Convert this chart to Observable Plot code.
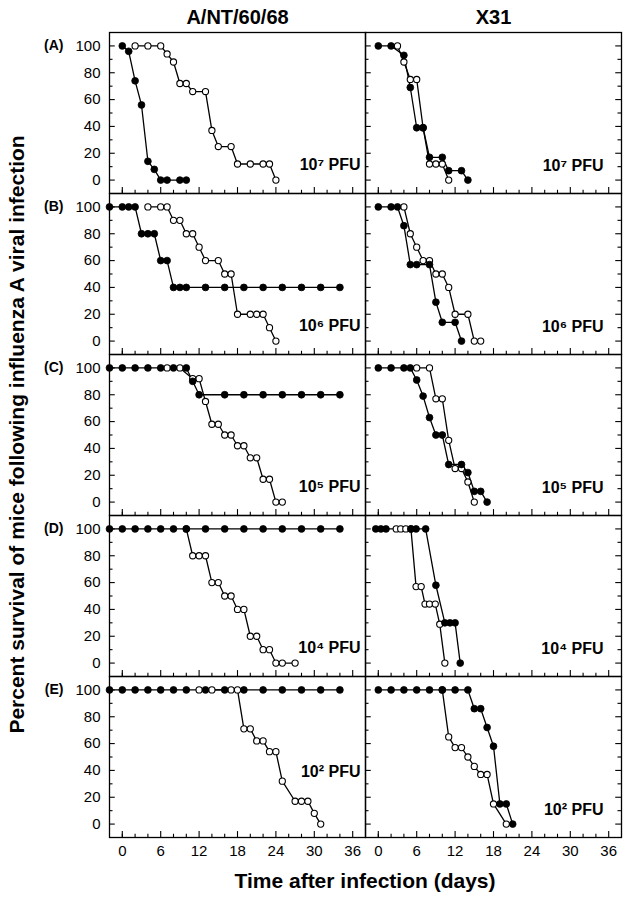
<!DOCTYPE html>
<html><head><meta charset="utf-8">
<script src="https://cdn.jsdelivr.net/npm/d3@7"></script>
<script src="https://cdn.jsdelivr.net/npm/@observablehq/plot@0.6"></script>
<style>
body{margin:0;background:#fff;}
#chart svg{display:block;}
</style>
</head><body><div id="chart"></div>
<script>
// ---- categories & labels ----
const strains = ["A/NT/60/68", "X31"];
const panels = ["A", "B", "C", "D", "E"];
const doses = ["10⁷ PFU", "10⁶ PFU", "10⁵ PFU", "10⁴ PFU", "10² PFU"];
const xTickLabels = [0, 6, 12, 18, 24, 30, 36];
const xMinorTicks = [0, 2, 4, 8, 10, 14, 16, 20, 22, 26, 28, 32, 34];
const yTickLabels = [0, 20, 40, 60, 80, 100];
const yMinorTicks = [10, 30, 50, 70, 90];
const yTitle = "Percent survival of mice following influenza A viral infection";
const xTitle = "Time after infection (days)";

// ---- series: [day, percent survival] ----
// A/NT/60/68
const ntA_filled = [[0,100],[1,96],[2,74],[3,56],[4,14],[5,8],[6,0],[7,0],[9,0],[10,0]];
const ntA_open = [[2,100],[4,100],[6,100],[7,94],[8,88],[9,72],[10,72],[11,66],[13,66],[14,37],[15,25],[17,25],[18,12],[20,12],[22,12],[23,12],[24,0]];
const ntB_filled = [[-2,100],[0,100],[1,100],[2,100],[3,80],[4,80],[5,80],[6,60],[7,60],[8,40],[9,40],[10,40],[13,40],[16,40],[19,40],[22,40],[25,40],[28,40],[31,40],[34,40]];
const ntB_open = [[4,100],[6,100],[7,100],[8,90],[9,90],[10,80],[11,80],[12,70],[13,60],[15,60],[16,50],[17,50],[18,20],[20,20],[21,20],[22,20],[23,10],[24,0]];
const ntC_filled = [[-2,100],[0,100],[2,100],[4,100],[6,100],[8,100],[10,100],[11,90],[12,80],[16,80],[19,80],[22,80],[25,80],[28,80],[31,80],[34,80]];
const ntC_open = [[7,100],[9,100],[11,92],[12,92],[13,75],[14,58],[15,58],[16,50],[17,50],[18,42],[19,42],[20,33],[21,33],[22,17],[23,17],[24,0],[25,0]];
const ntD_filled = [[-2,100],[0,100],[2,100],[4,100],[6,100],[8,100],[10,100],[13,100],[16,100],[19,100],[22,100],[25,100],[28,100],[31,100],[34,100]];
const ntD_open = [[10,100],[11,80],[12,80],[13,80],[14,60],[15,60],[16,50],[17,50],[18,40],[19,40],[20,20],[21,20],[22,10],[23,10],[24,0],[25,0],[27,0]];
const ntE_filled = [[-2,100],[0,100],[2,100],[4,100],[6,100],[8,100],[10,100],[13,100],[16,100],[19,100],[22,100],[25,100],[28,100],[31,100],[34,100]];
const ntE_open = [[12,100],[14,100],[17,100],[18,100],[19,71],[20,71],[21,62],[22,62],[23,54],[24,54],[25,32],[27,17],[28,17],[29,17],[30,8],[31,0]];
// X31
const xA_filled = [[0,100],[2,100],[4,93],[5,69],[6,39],[7,39],[8,17],[10,17],[11,7],[13,7],[14,0]];
const xA_open = [[3,100],[4,88],[5,75],[6,75],[7,39],[8,12],[9,12],[10,12],[11,0]];
const xB_filled = [[0,100],[2,100],[3,100],[4,86],[5,57],[6,57],[8,57],[9,29],[10,14],[12,14],[13,0]];
const xB_open = [[4,100],[5,80],[6,70],[7,60],[8,60],[9,50],[10,50],[11,40],[12,20],[14,20],[15,0],[16,0]];
const xC_filled = [[0,100],[2,100],[4,100],[5,100],[6,91],[7,79],[8,63],[9,50],[10,50],[11,28],[13,28],[14,22],[15,8],[16,8],[17,0]];
const xC_open = [[6,100],[8,100],[9,77],[10,77],[11,46],[12,25],[13,25],[14,15],[15,0]];
const xD_filled = [[-0.4,100],[0.4,100],[1.2,100],[5.1,100],[5.9,100],[7.4,100],[9,58],[10.4,30],[11.2,30],[12,30],[12.8,0]];
const xD_open = [[2.8,100],[3.5,100],[4.3,100],[5.1,100],[5.9,57],[6.7,57],[7.3,44],[8,44],[8.9,44],[9.6,29],[10.4,0]];
const xE_filled = [[0,100],[2,100],[4,100],[6,100],[8,100],[10,100],[12,100],[14,100],[15,86],[16,86],[17,72],[18,58],[19,15],[20,15],[21,0]];
const xE_open = [[10,100],[11,65],[12,57],[13,57],[14,50],[15,43],[16,37],[17,37],[18,15],[20,0]];

// ---- build table ----
const seriesList = [
  [strains[0], "A", ntA_filled, ntA_open],
  [strains[0], "B", ntB_filled, ntB_open],
  [strains[0], "C", ntC_filled, ntC_open],
  [strains[0], "D", ntD_filled, ntD_open],
  [strains[0], "E", ntE_filled, ntE_open],
  [strains[1], "A", xA_filled, xA_open],
  [strains[1], "B", xB_filled, xB_open],
  [strains[1], "C", xC_filled, xC_open],
  [strains[1], "D", xD_filled, xD_open],
  [strains[1], "E", xE_filled, xE_open]
];
const filledRows = [], openRows = [];
for (const [strain, panel, f, o] of seriesList) {
  for (const [day, pct] of f) filledRows.push({strain, panel, day, pct, key: strain + panel + "f"});
  for (const [day, pct] of o) openRows.push({strain, panel, day, pct, key: strain + panel + "o"});
}
const allRows = filledRows.concat(openRows);

const doseRows = [];
for (const s of strains) panels.forEach((p, i) => doseRows.push({strain: s, panel: p, text: doses[i]}));
const letterRows = panels.map(p => ({strain: strains[0], panel: p, y: 100, text: `(${p})`}));
const rightEdgeTicks = yTickLabels.map(v => ({strain: strains[1], v}));
const rightEdgeMinor = yMinorTicks.map(v => ({strain: strains[1], v}));

const font = "'Liberation Sans', Arial, Helvetica, sans-serif";

const chart = Plot.plot({
  width: 626,
  height: 900,
  marginLeft: 109,
  marginRight: 5,
  marginTop: 31,
  marginBottom: 62,
  style: {fontFamily: font, fontSize: "15px", color: "black", background: "white", overflow: "visible"},
  fx: {domain: strains, padding: 0, label: null},
  fy: {domain: panels, padding: 0, label: null, axis: null},
  x: {domain: [-2, 38]},
  y: {domain: [-10, 110]},
  marks: [
    Plot.axisFx({anchor: "top", label: null, tickSize: 0, tickPadding: 9, fontSize: 20, fontWeight: "bold"}),
    Plot.axisY({ticks: yTickLabels, tickSize: 0, tickPadding: 9, label: null, fontSize: 15}),
    Plot.axisX({ticks: xTickLabels, tickSize: 0, tickPadding: 8, label: null, fontSize: 15}),
    // inward tick marks
    Plot.ruleX(xTickLabels, {x: d => d, y1: -10, y2: -5.6, stroke: "black", strokeWidth: 1.1}),
    Plot.ruleX(xMinorTicks, {x: d => d, y1: -10, y2: -7.6, stroke: "black", strokeWidth: 1.1}),
    Plot.ruleY(yTickLabels, {y: d => d, x1: -2, x2: -1.1, stroke: "black", strokeWidth: 1.1}),
    Plot.ruleY(yMinorTicks, {y: d => d, x1: -2, x2: -1.45, stroke: "black", strokeWidth: 1.1}),
    Plot.ruleY(rightEdgeTicks, {fx: "strain", y: "v", x1: 38, x2: 37.1, stroke: "black", strokeWidth: 1.1}),
    Plot.ruleY(rightEdgeMinor, {fx: "strain", y: "v", x1: 38, x2: 37.45, stroke: "black", strokeWidth: 1.1}),
    Plot.frame({stroke: "black", strokeWidth: 1.3}),
    // series
    Plot.line(allRows, {x: "day", y: "pct", z: "key", fx: "strain", fy: "panel", stroke: "black", strokeWidth: 1.3}),
    Plot.dot(openRows, {x: "day", y: "pct", fx: "strain", fy: "panel", r: 3.1, fill: "white", stroke: "black", strokeWidth: 1.1}),
    Plot.dot(filledRows, {x: "day", y: "pct", fx: "strain", fy: "panel", r: 3.4, fill: "black", stroke: "black", strokeWidth: 0.8}),
    // panel letters
    Plot.text(letterRows, {fx: "strain", fy: "panel", y: "y", frameAnchor: "left", text: "text", dx: -46, textAnchor: "end", fontWeight: "bold", fontSize: 14}),
    // dose labels
    Plot.text(doseRows, {filter: d => d.strain === strains[0] && d.panel !== "E", fx: "strain", fy: "panel", text: "text", frameAnchor: "bottom-right", dx: -5, dy: -24, fontWeight: "bold", fontSize: 16}),
    Plot.text(doseRows, {filter: d => d.strain === strains[0] && d.panel === "E", fx: "strain", fy: "panel", text: "text", frameAnchor: "bottom-right", dx: -5, dy: -61, fontWeight: "bold", fontSize: 16}),
    Plot.text(doseRows, {filter: d => d.strain === strains[1], fx: "strain", fy: "panel", text: "text", frameAnchor: "bottom-right", dx: -18, dy: -23, fontWeight: "bold", fontSize: 16})
  ]
});

// axis titles spanning all facets
const svg = d3.select(chart);
svg.append("text")
  .attr("transform", `translate(18,${(31 + 838) / 2}) rotate(-90)`)
  .attr("text-anchor", "middle")
  .attr("dominant-baseline", "middle")
  .attr("font-family", font)
  .attr("font-weight", "bold")
  .attr("font-size", 21)
  .attr("fill", "black")
  .text(yTitle);
svg.append("text")
  .attr("x", (109 + 621) / 2)
  .attr("y", 888)
  .attr("text-anchor", "middle")
  .attr("font-family", font)
  .attr("font-weight", "bold")
  .attr("font-size", 21)
  .attr("fill", "black")
  .text(xTitle);

document.getElementById("chart").appendChild(chart);
</script>
</body></html>
